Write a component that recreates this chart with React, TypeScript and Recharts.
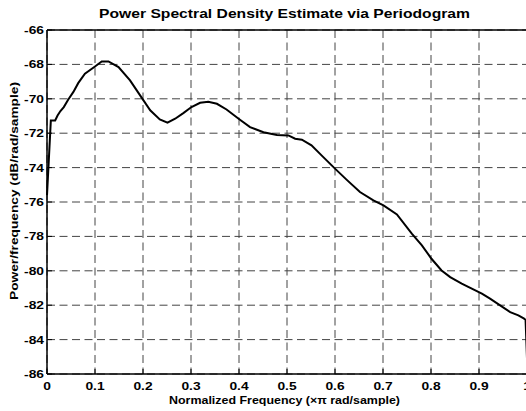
import React from "react";
import { LineChart, Line, XAxis, YAxis, CartesianGrid, ReferenceLine, Label } from "recharts";

const freq = [
  0, 0.008, 0.017, 0.022, 0.028, 0.035, 0.044, 0.055, 0.065, 0.079, 0.1, 0.114, 0.128, 0.149, 0.173, 0.194,
  0.215, 0.235, 0.251, 0.267, 0.284, 0.301, 0.319, 0.336, 0.354, 0.374, 0.402, 0.423, 0.451, 0.479, 0.503,
  0.517, 0.531, 0.551, 0.572, 0.6, 0.624, 0.652, 0.68, 0.701, 0.729, 0.76, 0.781, 0.801, 0.822, 0.84, 0.864,
  0.885, 0.906, 0.923, 0.944, 0.965, 0.982, 0.994, 0.997, 1.0,
];

const psd = [
  -75.6, -71.26, -71.26, -70.97, -70.71, -70.48, -70.05, -69.6, -69.09, -68.54, -68.12, -67.83, -67.83, -68.16,
  -68.93, -69.8, -70.67, -71.2, -71.39, -71.16, -70.83, -70.48, -70.23, -70.17, -70.29, -70.62, -71.22, -71.65,
  -71.94, -72.1, -72.13, -72.32, -72.38, -72.71, -73.29, -74.06, -74.7, -75.42, -75.91, -76.2, -76.72, -77.84,
  -78.52, -79.3, -79.98, -80.37, -80.75, -81.04, -81.33, -81.62, -82.01, -82.4, -82.59, -82.78, -82.85, -85.1,
];

const xTicks = [0, 0.1, 0.2, 0.3, 0.4, 0.5, 0.6, 0.7, 0.8, 0.9, 1];
const yTicks = [-86, -84, -82, -80, -78, -76, -74, -72, -70, -68, -66];

const title = "Power Spectral Density Estimate via Periodogram";
const xLabel = "Normalized Frequency (\u00d7\u03c0 rad/sample)";
const yLabel = "Power/frequency (dB/rad/sample)";

const data = freq.map((f, i) => ({ f, p: psd[i] }));

const font = "'Liberation Sans', Arial, Helvetica, sans-serif";

// the original figure is stretched sideways a bit, so the tick text is too
const XTick = ({ x, y, payload }: any) => (
  <text
    transform={`translate(${x},${y}) scale(1.2,1)`}
    textAnchor="middle"
    dy="0.71em"
    fontFamily={font}
    fontWeight="bold"
    fontSize={11.5}
    fill="#000"
  >
    {payload.value}
  </text>
);

const YTick = ({ x, y, payload }: any) => (
  <text
    transform={`translate(${x},${y}) scale(1.2,1)`}
    textAnchor="end"
    dy="0.355em"
    fontFamily={font}
    fontWeight="bold"
    fontSize={11.5}
    fill="#000"
  >
    {payload.value}
  </text>
);

export default function App() {
  return (
    <div style={{ position: "absolute", left: 0, top: 0, width: 526, height: 411, overflow: "hidden", background: "#fff" }}>
      <LineChart width={540} height={411} data={data} margin={{ top: 30, right: 13, bottom: 0, left: 0 }}>
        <CartesianGrid stroke="#444" strokeDasharray="8 4.5" horizontalValues={yTicks} verticalValues={xTicks} />
        <XAxis
          dataKey="f"
          type="number"
          domain={[0, 1]}
          ticks={xTicks}
          height={37}
          axisLine={{ stroke: "#000", strokeWidth: 1.5 }}
          tickLine={{ stroke: "#000" }}
          tickSize={-5}
          tickMargin={13}
          tick={<XTick />}
          interval={0}
        >
          <Label
            content={() => (
              <g fontFamily={font} fontWeight="bold" fill="#000">
                <text x={284.5} y={404} textAnchor="middle" fontSize={11.5} textLength={231} lengthAdjust="spacingAndGlyphs">
                  {xLabel}
                </text>
                <text x={284.5} y={18} textAnchor="middle" fontSize={13.4} textLength={371} lengthAdjust="spacingAndGlyphs">
                  {title}
                </text>
              </g>
            )}
          />
        </XAxis>
        <YAxis
          type="number"
          domain={[-86, -66]}
          ticks={yTicks}
          width={47}
          allowDataOverflow
          axisLine={{ stroke: "#000", strokeWidth: 1.5 }}
          tickLine={{ stroke: "#000" }}
          tickSize={-5}
          tickMargin={8}
          tick={<YTick />}
          interval={0}
        >
          <Label
            content={() => (
              <text
                x={17.5}
                y={191}
                transform="rotate(-90 17.5 191)"
                textAnchor="middle"
                fontFamily={font}
                fontWeight="bold"
                fontSize={11.5}
                fill="#000"
                textLength={218}
                lengthAdjust="spacingAndGlyphs"
              >
                {yLabel}
              </text>
            )}
          />
        </YAxis>
        <ReferenceLine y={-66} stroke="#000" strokeWidth={1.5} />
        <ReferenceLine x={1} stroke="#000" strokeWidth={1.5} />
        <Line
          type="linear"
          dataKey="p"
          stroke="#000"
          strokeWidth={2}
          dot={false}
          isAnimationActive={false}
        />
      </LineChart>
    </div>
  );
}
